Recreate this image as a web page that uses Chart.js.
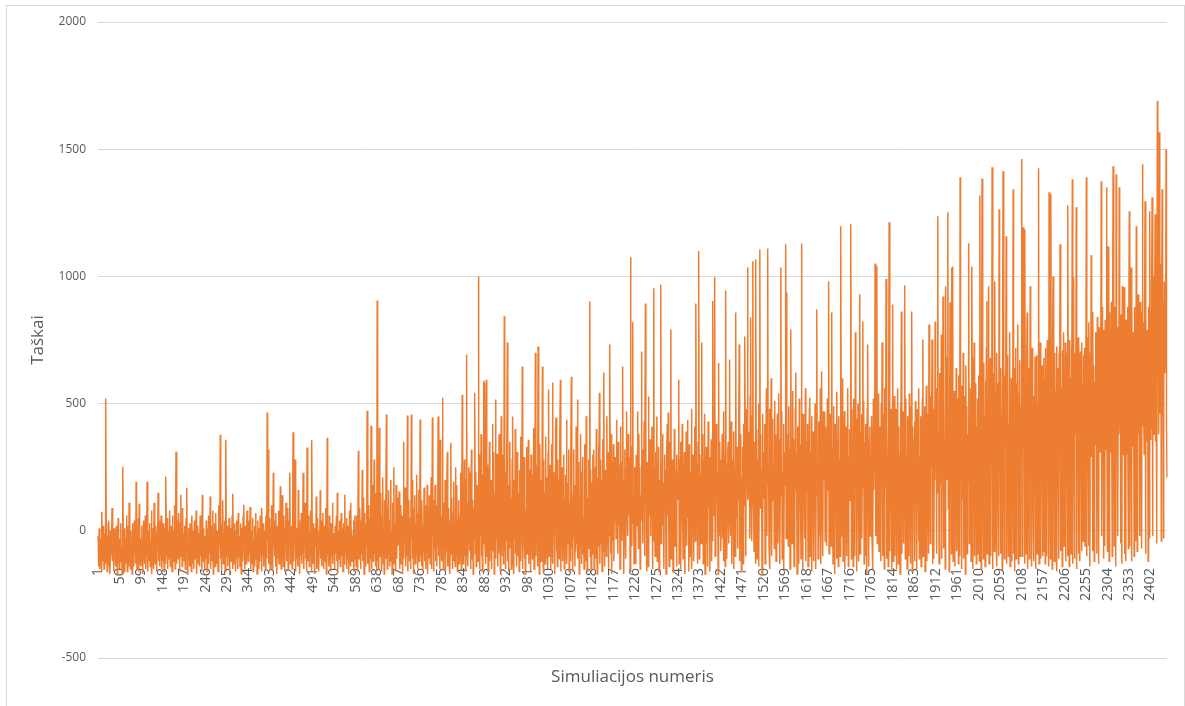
<!DOCTYPE html>
<html>
<head>
<meta charset="utf-8">
<title>Taškai pagal simuliaciją</title>
<script src="https://cdn.jsdelivr.net/npm/chart.js@4.4.1/dist/chart.umd.min.js"></script>
<style>
  body { margin: 0; background: #fff; }
  #wrap { position: relative; width: 1185px; height: 706px; }
  #frame { position: absolute; left: 6px; top: 5px; width: 1177px; height: 701px;
    border: 1px solid #d9d9d9; border-bottom: none; pointer-events: none; }
</style>
</head>
<body>
<div id="wrap">
  <canvas id="scoreChart" width="1185" height="706"></canvas>
  <div id="frame"></div>
</div>
<script>
// points per simulation (one row = 49 simulations)
const scores = [
-20,-140,-60,10,-150,-90,-30,-110,-160,75,-40,-120,20,-100,-150,-70,-10,-130,520,-50,30,-160,-80,-20,-140,40,-60,-170,-110,0,-90,-30,90,-70,-120,-20,-160,10,-90,-40,-140,-60,20,-110,-170,-50,50,-130,-30,
-90,-150,-40,30,-120,-60,-170,-20,252,-100,-50,-160,10,-80,-130,-30,60,-110,-160,-70,20,-140,110,-90,-40,-150,0,-120,-60,-170,30,-100,-50,-140,40,-80,-20,-130,193,-70,-150,-10,-100,50,-160,106,-60,-120,-30,
-140,-50,20,-110,-170,-70,40,-30,-130,-90,60,-150,-20,-100,193,-60,-160,0,-120,-80,30,-140,-40,-100,80,-170,-60,10,-110,-150,110,-30,-90,-130,20,-70,-160,-10,-50,150,-120,-80,40,-140,-20,-100,60,-60,-150,
-40,-120,30,-80,-160,10,-60,-130,213,-20,-100,50,-150,-50,0,-110,-70,80,-140,-30,20,-90,-160,60,-40,-120,0,-70,100,-150,-10,311,-80,-130,40,-50,-110,70,-20,-160,-60,30,142,-100,-40,-140,90,-70,-10,
-120,-60,20,-150,-30,50,-90,169,-170,-40,-110,10,-70,-140,30,-20,-100,-160,60,-50,-130,0,-80,-150,40,-30,-110,-60,80,-170,-20,-90,20,-130,-50,-10,-140,60,-70,-100,30,-160,142,-40,-120,10,-80,-20,-150,
-30,-110,40,-70,-160,10,-50,-130,60,-20,-90,135,-150,-40,20,-120,-60,80,-170,-10,-100,30,-140,-50,70,-80,-130,0,-40,-160,100,-90,-20,50,378,-110,-60,-150,30,-70,120,-130,-10,-90,40,-160,-50,358,-100,
-60,20,-140,-30,-100,50,-170,-40,-80,10,-120,-50,60,-150,146,-90,-20,-130,30,-70,-160,0,-110,40,-40,-150,70,-60,-100,-20,-140,30,-80,-170,10,-50,-120,60,-30,102,-90,-150,20,-60,-130,-10,80,-110,-40,
-120,-20,40,-90,94,-150,-50,0,-130,-70,50,-160,-30,-100,20,-140,-60,70,-110,-10,-170,40,-80,-40,-150,10,-120,60,-70,-20,-160,90,-50,-100,30,-140,0,-80,-30,-150,60,-60,-110,465,-40,320,-130,-20,50,
-80,-150,10,-50,100,-120,-20,-160,228,-60,40,-100,-30,-140,70,-70,-170,20,-110,-40,80,-130,0,-90,175,-50,-150,30,140,-100,-20,-140,60,-70,-160,10,-50,110,-120,-30,90,-90,-150,40,-60,-10,228,-130,-40,
-100,20,-150,-40,387,-70,-120,50,-20,280,-160,-60,10,-110,-30,-140,160,-80,40,-170,-50,0,-100,70,-130,-20,-90,228,-60,-150,30,-40,110,-110,-10,-160,327,-70,-120,60,-30,-140,0,-90,80,-50,-160,358,-80,
-130,-40,30,-100,-170,10,-60,-20,135,-150,-80,50,-120,-30,-160,0,-70,160,-110,40,-50,-140,-10,70,-90,-150,20,-60,-120,90,-30,-170,-80,366,-100,10,-50,-140,60,-20,-110,-160,30,-70,-40,110,-130,-10,-90,
-50,-150,20,-90,-30,60,-120,150,-170,-60,0,-110,40,-80,-140,-20,70,-100,-50,10,-160,-70,30,-130,142,-40,-90,-10,-150,50,-110,-60,20,-170,-30,80,-100,-140,110,-50,0,-120,-80,-20,40,-160,-70,60,-110,
-40,-140,60,-80,20,-160,315,-60,-110,90,-30,-150,40,-90,0,240,-120,-50,130,-170,-20,70,-100,-140,30,-60,472,-130,-10,100,-80,-160,50,-40,-110,413,-150,10,-70,180,-120,-30,280,-90,60,-140,150,-50,-160,
905,-120,80,-60,-150,405,30,-100,150,-40,-160,60,-80,210,-130,10,-170,120,-50,-110,70,457,-20,-150,90,-90,160,-60,-140,40,-30,200,-120,0,-170,110,-70,-40,250,-130,30,-90,-160,180,-20,-110,60,-60,130,
-50,154,-150,20,-90,100,-130,-30,60,-170,-70,350,-110,40,-20,170,-140,-60,80,-100,453,-160,10,120,-40,-120,50,-80,-150,457,-30,200,-110,0,-170,90,-60,140,-130,30,-90,220,-20,-150,70,-50,160,-120,-10,
437,-100,50,-140,120,-40,-160,20,-80,170,-120,60,-30,-150,100,-60,181,-170,-10,80,-110,140,-50,-130,30,210,-90,-150,445,-20,120,-160,60,-70,180,-40,-120,100,-140,20,-60,449,-100,160,-30,-150,358,-80,40,
-120,60,523,-60,-150,110,-30,-100,200,-160,20,-80,150,311,-140,-20,90,-110,40,-170,-50,346,-90,130,-30,-150,70,-120,193,-60,10,-140,250,-20,-100,180,-160,40,-70,120,-130,60,-40,-110,228,-150,90,535,-80,
-130,150,-20,280,-100,60,-160,200,693,-50,110,-140,20,250,228,-80,170,-150,40,320,-60,-110,120,-170,90,-30,400,543,-90,230,-140,60,180,-40,-120,1000,-70,300,-150,140,-20,380,-100,80,-160,220,-50,590,110,
583,-60,140,-130,594,30,-100,260,-160,90,-40,350,-120,170,-20,200,-150,60,420,-80,10,310,-170,150,-60,516,-110,240,-30,303,-140,80,-90,380,-50,190,-160,40,450,-100,120,-20,300,-130,60,843,-80,230,-150,
100,-40,260,740,-120,50,-160,180,-70,350,-20,130,-150,-60,280,449,-110,90,-170,200,-30,400,-90,60,-140,310,20,-100,150,-50,-160,240,-80,370,-120,40,-30,646,-150,110,-60,290,-110,190,-170,80,-40,330,-90,
-60,150,358,-130,240,-20,90,-160,300,-80,160,-110,40,220,405,-150,70,-50,700,-100,180,-30,260,-140,724,-70,120,-170,340,-40,200,-120,60,-90,646,20,-160,280,-60,150,-130,370,-20,210,-110,90,-150,310,555,
-100,180,-40,260,-150,90,340,-60,583,-130,150,-20,230,-170,60,400,445,-80,120,-140,280,-50,200,-110,70,350,594,-160,160,-30,250,-120,40,-70,300,-150,130,-20,220,-90,437,-130,80,190,-50,320,-160,110,-10,
-120,250,606,-70,140,-160,60,320,-30,180,-140,90,-80,410,-50,200,516,-110,30,270,-170,120,-60,380,-20,-130,160,230,291,-90,50,-150,340,-40,200,-120,450,10,-160,130,-70,280,-30,170,902,-100,240,-150,70,
190,-90,300,-40,319,-150,120,250,-110,60,400,-20,-170,210,-60,340,150,543,-130,80,280,-50,200,-160,110,360,-80,622,30,-140,240,-30,170,-100,450,90,-60,310,-150,200,-20,732,130,-90,380,-170,60,270,-40,
340,-120,180,40,290,110,-30,437,150,230,-90,350,20,260,160,-150,410,80,270,-40,120,646,190,200,-170,90,320,60,-110,240,469,130,150,-20,380,60,210,290,-160,1075,100,200,-60,330,820,30,130,-130,250,
120,210,-130,300,90,20,469,180,-70,380,140,250,-150,140,60,705,40,320,-50,200,160,430,-100,260,893,110,150,-160,270,30,-140,528,180,240,60,360,-20,180,100,410,-150,90,290,953,-40,250,-100,200,310,
150,449,-120,260,60,330,-160,200,110,100,968,-50,270,130,380,20,190,-150,160,300,90,240,-170,120,310,420,60,465,80,-140,350,190,210,791,-110,220,40,280,-160,170,110,400,386,-60,240,130,-140,300,170,
120,210,594,-130,280,60,350,-150,160,230,420,40,-110,260,90,310,-170,180,130,390,-60,150,437,50,270,-160,340,190,-100,230,110,480,-150,200,280,300,-120,120,240,410,-40,893,260,80,180,-130,350,140,1100,
-110,300,140,220,-50,740,80,200,380,-130,150,270,460,-170,240,90,330,-50,190,-140,430,90,180,290,-160,250,120,360,-120,130,-40,903,200,310,60,997,-100,220,-30,420,160,230,40,-170,660,110,350,-20,280,
-80,240,150,380,-30,190,-120,470,60,300,-140,945,120,260,-110,150,320,350,-50,220,673,90,310,-20,430,-130,170,240,280,-150,390,110,240,-100,858,50,180,330,-70,200,120,460,732,-120,270,60,380,-160,210,
160,330,-130,420,100,240,764,250,-100,480,190,300,1035,120,180,370,390,-30,530,838,210,270,-40,450,1060,140,60,-80,350,220,-130,1067,170,400,-110,160,280,500,-140,290,1106,90,380,120,240,-170,460,20,310,
310,130,420,-130,200,260,560,-20,350,1110,180,270,-60,480,-150,190,340,600,-100,330,220,440,120,250,-70,510,160,380,-120,290,80,460,-50,220,540,190,360,-130,300,1035,140,470,-110,230,100,420,-150,310,240,
180,1126,-30,937,140,380,230,-60,490,260,320,-150,440,791,100,270,-50,550,200,360,-140,240,-90,480,622,160,300,-170,410,120,250,-130,520,210,340,80,-110,1129,190,280,-150,460,130,300,390,-30,560,-120,260,
350,160,420,-140,280,90,480,523,-100,310,200,450,-160,230,120,390,-120,270,180,500,60,-150,340,870,140,260,-110,430,210,310,-20,560,-130,380,626,150,250,-100,470,200,320,468,-40,410,130,290,-60,520,240,
160,981,-90,380,220,460,200,-60,858,120,330,-130,490,260,270,-170,420,140,300,-110,547,190,360,-140,450,100,280,-100,530,1197,170,390,-20,600,-120,310,200,470,-150,250,110,410,-100,330,180,560,-140,290,140,
400,120,300,1205,-110,480,230,260,-140,520,150,370,-100,780,190,440,-160,310,240,500,-120,280,140,930,-90,390,200,460,-30,270,823,170,510,-130,350,210,420,-100,290,-170,480,732,360,-140,160,270,410,-20,300,
210,450,-30,380,-150,520,160,300,240,1051,-20,470,190,1040,-50,360,160,540,-80,410,250,290,-120,500,190,740,-100,380,220,460,-150,560,170,330,990,-110,420,240,290,-140,510,1213,130,-80,370,260,480,-160,320,
890,-120,440,210,530,-100,310,190,480,-150,370,260,560,-130,410,160,300,-170,500,230,862,-90,390,200,470,-50,340,180,965,-110,520,240,290,-150,450,200,380,-100,540,160,310,-130,490,250,862,-160,410,190,360,
230,430,-120,510,180,370,-150,480,260,330,-40,560,-110,290,200,450,-140,380,240,520,752,-100,410,190,490,-160,340,270,570,-120,300,220,460,-90,811,160,390,-50,530,250,420,752,-130,310,480,-110,350,200,823,
340,480,-90,560,220,1236,150,390,-130,620,260,500,180,772,-110,450,300,921,-70,580,240,330,-150,961,410,510,200,680,1252,90,420,-160,390,898,260,600,-90,1035,310,1039,-120,470,270,550,-140,400,180,640,-80,
520,230,380,-130,610,320,-100,1390,210,460,-150,570,280,120,700,-110,530,350,420,-170,650,260,490,-90,380,190,600,1130,-50,440,300,560,-120,240,1039,470,-150,680,330,740,-100,350,210,580,-130,410,290,520,-90,
310,610,-120,1319,250,480,-150,560,1385,200,390,-110,660,330,450,-140,590,280,720,902,-90,520,240,961,-130,400,330,680,-100,530,260,1429,-150,470,310,620,-80,980,360,550,-10,700,-140,390,240,580,-100,1264,290,
500,-90,640,300,450,-150,700,1413,260,520,-110,610,340,480,1158,-130,560,280,690,-100,420,330,780,-140,530,250,600,-120,470,310,1343,-90,640,-160,500,270,720,-110,580,330,460,811,-130,540,290,670,-100,490,300,
280,1461,-100,480,1193,320,620,-130,1185,250,560,-90,690,858,-150,510,340,640,-110,470,961,290,600,-140,720,230,550,-10,-120,530,310,685,-150,580,260,690,-90,500,340,1425,-130,610,280,740,-110,560,300,650,-100,
543,-80,680,300,590,-130,720,260,610,-100,750,340,530,-140,1331,320,640,-110,1323,280,570,-150,680,1000,310,620,-120,700,290,550,-90,724,-160,640,350,590,-110,700,320,1126,-80,660,270,560,-140,710,340,780,-60,
620,300,740,-120,580,330,700,-100,1280,360,660,-140,750,280,600,-90,720,340,1382,-130,996,310,640,-110,700,380,580,1272,-150,690,320,760,-90,620,350,-120,705,290,660,-80,740,360,580,-40,690,330,720,-60,640,
300,1390,-100,760,420,680,-60,820,380,-140,700,460,1083,290,740,-80,860,400,650,-120,587,340,780,450,690,-90,840,360,720,-130,800,480,650,310,760,1374,-20,880,420,700,-110,790,370,-60,830,450,320,1350,680,
-80,780,1118,400,-120,860,310,720,450,900,350,-100,820,1433,360,740,-60,880,490,-140,1402,420,800,330,-20,760,380,1350,410,850,-50,720,480,-130,961,870,300,480,957,-90,790,440,-120,830,300,590,880,360,-70,
850,1256,-60,510,820,1035,-120,900,470,330,780,560,-100,880,440,760,-40,1197,530,-80,860,929,380,810,490,-20,900,550,780,-70,860,1441,410,820,460,300,900,1295,-90,840,580,350,790,510,-120,880,420,-30,1256,
360,860,400,950,1311,-20,780,520,1000,380,900,1244,350,980,600,-50,1689,700,940,380,1567,460,880,620,1050,-40,960,1343,450,900,-30,543,980,620,700,850,1500,420,209
];

const simulations = scores.map((_, i) => String(i + 1));

const tickLabels = ['1', '50', '99', '148', '197', '246', '295', '344', '393', '442', '491', '540', '589',
  '638', '687', '736', '785', '834', '883', '932', '981', '1030', '1079', '1128', '1177', '1226', '1275',
  '1324', '1373', '1422', '1471', '1520', '1569', '1618', '1667', '1716', '1765', '1814', '1863', '1912',
  '1961', '2010', '2059', '2108', '2157', '2206', '2255', '2304', '2353', '2402'];

const yTicks = [-500, 0, 500, 1000, 1500, 2000];

const shownLabels = new Set(tickLabels);

Chart.defaults.font.family = "'Open Sans', sans-serif";
Chart.defaults.color = '#595959';

const ctx = document.getElementById('scoreChart').getContext('2d');
new Chart(ctx, {
  type: 'line',
  data: {
    labels: simulations,
    datasets: [{
      label: 'Taškai',
      data: scores,
      borderColor: '#ED7D31',
      borderWidth: 1.5,
      pointRadius: 0,
      tension: 0,
      fill: false
    }]
  },
  options: {
    responsive: false,
    animation: false,
    events: [],
    layout: {
      padding: { left: 0, top: 22, right: 18, bottom: 48 }
    },
    plugins: {
      legend: { display: false },
      tooltip: { enabled: false }
    },
    scales: {
      x: {
        type: 'category',
        position: { y: -130 },
        grid: { display: false, drawTicks: false },
        border: { display: false },
        ticks: {
          autoSkip: false,
          minRotation: 90,
          maxRotation: 90,
          padding: 4,
          font: { size: 14.5 },
          color: '#595959',
          callback: function (value) {
            const label = this.getLabelForValue(value);
            return shownLabels.has(label) ? label : null;
          }
        },
        title: {
          display: true,
          text: 'Simuliacijos numeris',
          font: { size: 17 },
          color: '#595959',
          padding: { top: 62, bottom: 0 }
        }
      },
      y: {
        min: yTicks[0],
        max: yTicks[yTicks.length - 1],
        afterFit: (scale) => { scale.width = 98; },
        afterBuildTicks: (scale) => { scale.ticks = yTicks.map(v => ({ value: v })); },
        grid: { color: '#d9d9d9', drawTicks: false },
        border: { display: false },
        ticks: {
          padding: 12,
          font: { size: 12 },
          color: '#595959',
          callback: (value) => String(value)
        },
        title: {
          display: true,
          text: 'Taškai',
          font: { size: 17 },
          color: '#595959',
          padding: { top: 28, bottom: 0 }
        }
      }
    }
  }
});
</script>
</body>
</html>
